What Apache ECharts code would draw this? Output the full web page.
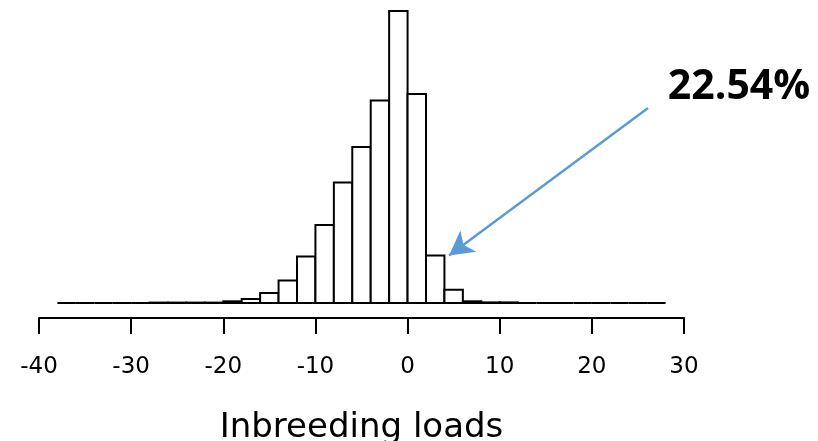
<!DOCTYPE html>
<html>
<head>
<meta charset="utf-8">
<script src="https://cdn.jsdelivr.net/npm/echarts@6/dist/echarts.min.js"></script>
<style>
  html, body { margin: 0; padding: 0; background: #fff; }
  #chart { width: 818px; height: 441px; }
</style>
</head>
<body>
<div id="chart"></div>
<script>
// histogram bins (left edges, width 2) and counts
const binStarts = [-38, -36, -34, -32, -30, -28, -26, -24, -22, -20, -18, -16, -14, -12, -10, -8, -6, -4, -2, 0, 2, 4, 6, 8, 10, 12, 14, 16, 18, 20, 22, 24, 26]
const counts = [0, 0, 0, 0, 0, 4, 4, 4, 4, 17, 40, 100, 226, 466, 780, 1206, 1560, 2026, 2920, 2090, 476, 133, 17, 6, 6, 0, 0, 0, 0, 0, 0, 0, 0]
const binWidth = 2
const xTicks = [-40, -30, -20, -10, 0, 10, 20, 30]
const annotText = '22.54%'
// arrow from label towards the right tail bar
const arrowFrom = [26.1, 1950]
const arrowTo = [4.5, 476]

const chart = echarts.init(document.getElementById('chart'))

chart.setOption({
  animation: false,
  backgroundColor: '#fff',
  grid: {
    left: 39,
    right: 134,
    top: 11,
    bottom: 138,
    containLabel: false,
    outerBoundsMode: 'none'
  },
  xAxis: {
    type: 'value',
    min: xTicks[0],
    max: xTicks[xTicks.length - 1],
    interval: 10,
    offset: 15,
    name: 'Inbreeding loads',
    nameLocation: 'middle',
    nameGap: 93,
    nameTextStyle: {
      fontFamily: 'DejaVu Sans',
      fontSize: 34,
      color: '#000'
    },
    splitLine: { show: false },
    axisLine: {
      show: true,
      onZero: false,
      lineStyle: { color: '#000', width: 2 }
    },
    axisTick: {
      show: true,
      length: 16,
      lineStyle: { color: '#000', width: 2 }
    },
    axisLabel: {
      margin: 38,
      fontFamily: 'DejaVu Sans',
      fontSize: 23,
      color: '#000',
      showMinLabel: true,
      showMaxLabel: true
    }
  },
  yAxis: {
    type: 'value',
    min: 0,
    max: 2920,
    show: false
  },
  series: [
    {
      type: 'custom',
      data: binStarts.map((s, i) => [s, s + binWidth, counts[i]]),
      encode: { x: [0, 1], y: 2 },
      renderItem(params, api) {
        const p0 = api.coord([api.value(0), api.value(2)])
        const p1 = api.coord([api.value(1), 0])
        return {
          type: 'rect',
          shape: {
            x: p0[0],
            y: p0[1],
            width: p1[0] - p0[0],
            height: p1[1] - p0[1]
          },
          style: {
            fill: '#fff',
            stroke: '#000',
            lineWidth: 2
          }
        }
      },
      markLine: {
        silent: true,
        symbol: ['none', 'arrow'],
        symbolSize: [20, 24],
        label: { show: false },
        lineStyle: {
          color: '#5B9BD5',
          width: 2.5,
          type: 'solid'
        },
        data: [
          [
            { coord: arrowFrom },
            { coord: arrowTo }
          ]
        ]
      }
    }
  ],
  graphic: [
    {
      type: 'text',
      x: 739,
      y: 87,
      style: {
        text: annotText,
        fontFamily: 'Open Sans',
        fontWeight: 'bold',
        fontSize: 41,
        fill: '#000',
        align: 'center',
        verticalAlign: 'middle'
      }
    }
  ]
})
</script>
</body>
</html>
